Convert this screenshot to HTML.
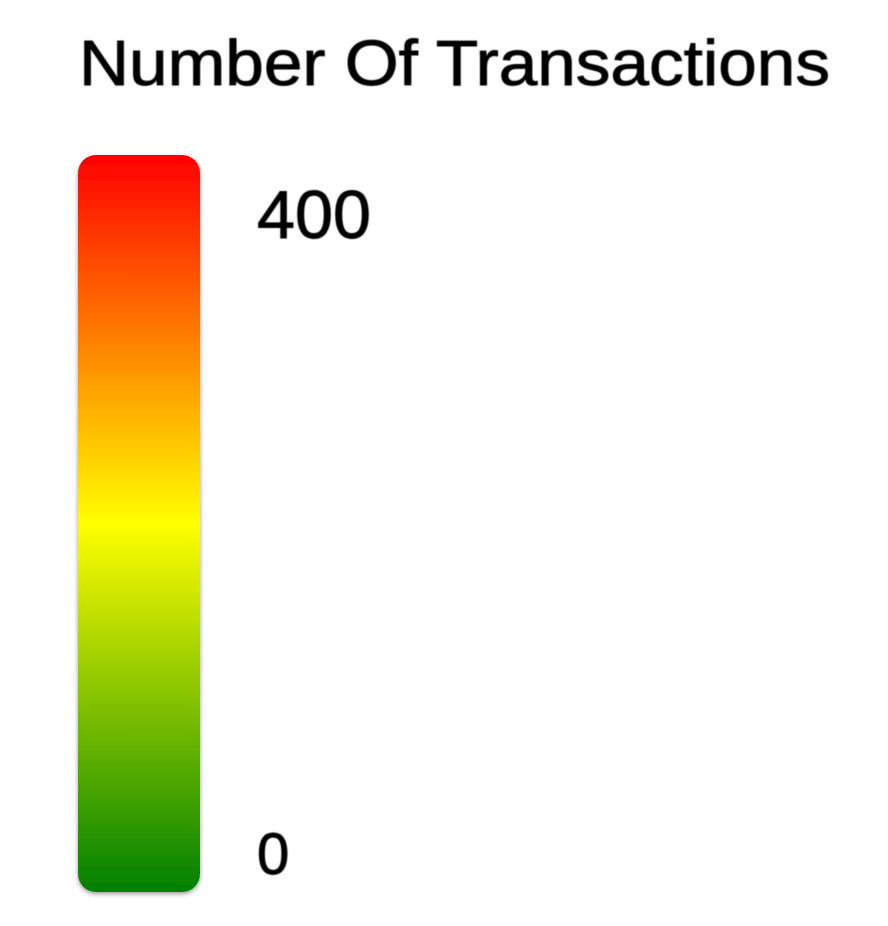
<!DOCTYPE html>
<html>
<head>
<meta charset="utf-8">
<title>Number Of Transactions</title>
<style>
html,body{margin:0;padding:0;background:#fff;width:888px;height:926px;overflow:hidden}
svg{display:block}
text{font-family:"Liberation Sans",sans-serif;fill:#000;stroke:#000;stroke-width:0.9px}
</style>
</head>
<body>
<svg width="888" height="926" viewBox="0 0 888 926">
  <defs>
    <linearGradient id="ramp" x1="0" y1="0" x2="0" y2="1">
      <stop offset="0" stop-color="#ff0000"/>
      <stop offset="0.5" stop-color="#ffff00"/>
      <stop offset="1" stop-color="#008000"/>
    </linearGradient>
    <filter id="barShadow" x="-20%" y="-5%" width="140%" height="110%">
      <feDropShadow dx="0" dy="2" stdDeviation="2.5" flood-color="#000" flood-opacity="0.4"/>
    </filter>
    <filter id="soft" x="-5%" y="-20%" width="110%" height="140%">
      <feGaussianBlur stdDeviation="0.5"/>
    </filter>
  </defs>
  <text id="title" x="79" y="85" font-size="64" textLength="751" lengthAdjust="spacingAndGlyphs" filter="url(#soft)">Number Of Transactions</text>
  <rect x="78" y="155" width="122" height="737" rx="18" ry="18" fill="url(#ramp)" filter="url(#barShadow)"/>
  <text id="maxLabel" x="257" y="238" font-size="68" textLength="114" lengthAdjust="spacingAndGlyphs" filter="url(#soft)">400</text>
  <text id="minLabel" x="257" y="874" font-size="58" filter="url(#soft)">0</text>
</svg>
</body>
</html>
